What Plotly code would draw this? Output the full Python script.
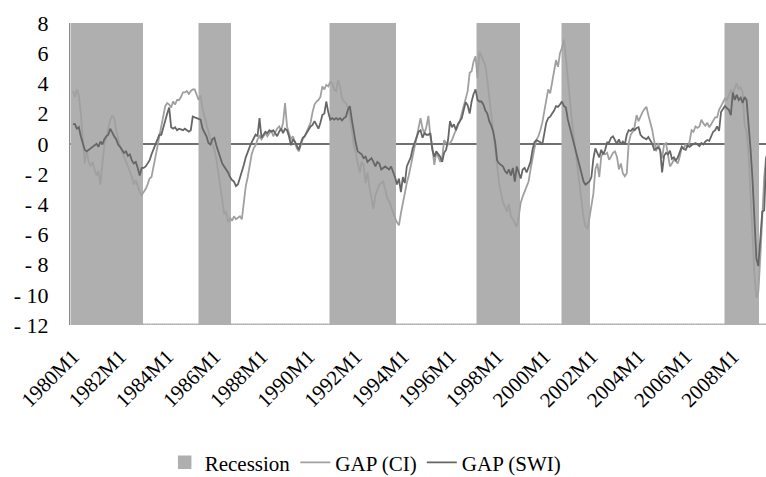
import plotly.graph_objects as go

START_YEAR = 1980
N_MONTHS = 354

# GAP (CI) monthly values, 1980M1 onwards (one row per year)
gap_ci = [
    3.5, 3.1, 3.6, 3.2, 2.0, 0.3, -1.3, -0.4, -1.2, -1.5, -1.2, -1.7,
    -2.1, -1.8, -2.7, -1.3, -0.1, 0.4, 1.0, 1.6, 1.85, 1.7, 0.9, 0.3,
    -0.2, -0.5, -0.9, -1.2, -1.5, -1.8, -2.2, -2.7, -2.4, -2.8, -3.2, -3.4,
    -3.2, -3.0, -2.7, -2.3, -2.2, -1.6, -0.8, -0.2, 0.5, 1.1, 1.9, 2.5,
    2.7, 2.6, 2.4, 2.8, 2.6, 2.9, 2.9, 3.1, 3.4, 3.4, 3.5, 3.3,
    3.5, 3.6, 3.6, 3.2, 2.9, 3.2, 2.3, 1.8, 1.3, 0.7, 0.3, 0.0,
    -0.4, -1.0, -1.9, -2.8, -3.7, -4.6, -4.5, -5.2, -4.9, -5.1, -4.8, -5.0,
    -4.9, -4.8, -5.0, -3.9, -2.8, -2.2, -1.3, -0.7, -0.3, -0.1, 0.3, 0.5,
    0.3, 0.5, 0.7, 0.5, 0.7, 0.9, 0.5, 0.8, 1.0, 1.15, 0.9, 1.4,
    2.7, 1.15, 0.7, 0.3, 0.5, 0.05, -0.3, -0.5, -0.1, 0.3, 0.5, 0.8,
    1.0, 1.4, 2.1, 2.6, 2.8, 2.9, 3.1, 3.8, 3.6, 3.9, 3.8, 4.1,
    4.0, 3.6, 3.5, 4.2, 3.8, 3.0, 2.8, 2.7, 2.4, 1.8, 0.9, -0.1,
    -0.6, -1.2, -1.9, -1.2, -1.4, -2.6, -1.9, -2.9, -3.7, -4.3, -3.4, -3.0,
    -2.7, -2.6, -2.5, -3.0, -3.6, -3.8, -4.2, -4.5, -4.9, -5.2, -5.4, -4.6,
    -3.9, -3.3, -2.6, -2.1, -1.5, -0.8, -0.1, 0.4, 0.9, 1.7, 1.0, 0.7,
    1.15, 1.85, 0.5, -0.2, -1.4, -0.6, -0.85, -1.2, -0.95, 0.25, 0.05, -0.05,
    0.05, 0.25, 0.6, 0.9, 1.15, 1.5, 2.0, 2.6, 3.0, 3.5, 4.7, 4.8,
    5.45, 5.8, 4.35, 6.1, 5.8, 5.45, 5.2, 4.2, 3.1, 1.7, 0.7, -0.3,
    -1.5, -2.6, -3.3, -3.9, -4.15, -4.5, -4.0, -4.8, -5.0, -5.25, -5.5, -4.8,
    -3.9, -3.5, -3.2, -2.8, -2.5, -1.7, -0.85, -0.3, 0.25, 0.5, 0.9, 1.4,
    2.15, 2.8, 3.6, 3.35, 4.0, 4.8, 5.55, 5.1, 6.0, 6.35, 6.9, 5.7,
    4.2, 2.9, 1.6, 0.5, -0.6, -1.7, -2.8, -3.9, -4.9, -5.5, -5.6, -4.9,
    -4.15, -3.3, -1.7, -1.3, -2.2, -0.85, -0.6, -0.7, -0.6, -1.05, -0.85, -0.6,
    -0.5, -0.85, -1.7, -1.3, -1.95, -2.15, -1.95, 0.05, 0.6, 0.8, 1.15, 1.9,
    1.5, 1.85, 2.1, 2.3, 2.45, 1.9, 1.4, 0.9, 0.15, -0.5, 0.05, -0.5,
    -0.95, -0.05, 0.05, -0.75, -1.5, -1.3, -1.05, -1.15, -1.3, -0.85, -0.2, -0.3,
    -0.05, -0.2, 0.15, 0.9, 0.8, 1.15, 1.05, 1.15, 1.6, 1.35, 1.2, 1.4,
    1.1, 1.3, 1.5, 1.75, 1.75, 2.25, 2.5, 2.8, 3.0, 2.9, 3.25, 3.6,
    3.35, 3.7, 4.0, 3.6, 3.75, 3.4, 1.3, 0.8, -0.6, -3.3, -6.0, -8.6,
    -10.2, -9.8, -7.5, -4.8, -2.2, -0.8,
]

# GAP (SWI) monthly values, 1980M1 onwards (one row per year)
gap_swi = [
    1.3, 1.3, 1.0, 1.1, 0.5, 0.05, -0.4, -0.5, -0.4, -0.3, -0.2, -0.1,
    0.0, -0.2, 0.15, -0.05, 0.3, 0.5, 0.6, 1.0, 0.7, 0.5, 0.3, -0.05,
    -0.2, -0.4, -0.6, -0.5, -0.8, -0.7, -1.1, -1.3, -1.2, -1.6, -2.1, -1.6,
    -1.6, -1.5, -1.3, -1.1, -0.7, -0.4, -0.1, 0.3, 0.6, 0.6, 1.1, 1.5,
    2.0, 2.4, 1.1, 1.0, 1.1, 0.9, 1.0, 0.95, 0.9, 1.0, 0.9, 0.8,
    0.9, 1.8, 1.75, 1.7, 1.7, 1.6, 1.0, 0.7, 0.5, 0.05, -0.05, 0.3,
    0.4, -0.1, -0.5, -0.8, -1.3, -1.5, -1.7, -1.9, -2.2, -2.4, -2.5, -2.8,
    -2.7, -2.3, -1.8, -1.4, -0.9, -0.5, -0.2, 0.1, 0.4, 0.6, 0.5, 1.7,
    0.4, 0.6, 0.8, 0.7, 0.9, 0.8, 0.9, 0.7, 0.5, 0.8, 1.0, 0.7,
    1.0, 0.9, 0.5, -0.1, 0.3, 0.15, -0.1, -0.4, 0.05, 0.4, 0.5, 0.7,
    0.9, 1.15, 1.25, 1.5, 1.25, 1.0, 1.4, 1.9, 2.0, 2.8, 2.1, 1.6,
    1.7, 1.6, 1.7, 1.6, 1.7, 1.55, 1.7, 1.8, 2.25, 2.5, 1.6, 0.7,
    0.05, -0.5, -0.6, -0.7, -0.95, -0.85, -1.2, -1.05, -0.95, -1.2, -1.5, -1.2,
    -1.3, -1.7, -1.6, -1.5, -1.6, -1.7, -1.5, -1.8, -2.2, -2.7, -2.3, -3.2,
    -2.2, -2.6, -1.5, -1.2, -0.9, -0.3, 0.1, 0.5, 0.8, 0.9, 0.4, 0.7,
    0.6, 0.6, 0.7, -0.4, -0.85, -0.5, -0.7, -0.85, -1.2, -0.6, -0.4, 0.25,
    1.5, 1.1, 1.3, 0.9, 1.3, 1.5, 1.7, 2.25, 2.75, 2.55, 2.0, 2.8,
    3.3, 3.6, 2.9, 2.8, 2.8, 2.6, 2.2, 2.0, 1.5, 1.2, 0.8, 0.1,
    -1.1, -1.3, -1.4, -1.5, -1.8, -1.95, -1.7, -2.1, -1.6, -2.5, -1.5, -1.9,
    -2.3, -1.7, -1.6, -1.9, -1.5, -1.2, -0.4, 0.1, 0.25, 0.2, 0.1, -0.05,
    0.7, 1.4, 1.7, 1.8, 2.0, 2.2, 2.5, 2.45, 2.6, 2.8, 2.5, 2.4,
    1.6, 1.1, 0.5, 0.0, -0.5, -1.05, -1.5, -1.9, -2.5, -2.7, -2.6, -2.5,
    -2.2, -1.0, -0.3, -0.6, -0.9, -0.4, -0.7, -0.4, 0.1, 0.1, 0.4, 0.5,
    0.25, 0.0, 0.3, -0.05, 0.15, -0.05, 0.6, 0.9, 0.85, 1.0, 0.9, 1.05,
    1.1, 0.6, 0.45, 0.4, 0.3, 0.45, 0.2, 0.0, -0.4, -0.3, -0.25, -0.4,
    -1.9, -0.8, -0.6, -0.7, -0.45, -1.0, -0.9, -1.1, -0.9, -0.55, -0.2, -0.35,
    -0.4, -0.1, -0.2, -0.1, -0.05, 0.05, -0.05, -0.15, 0.05, -0.05, 0.15, 0.25,
    0.2, 0.5, 0.8, 0.9, 1.15, 0.85, 2.1, 2.3, 2.5, 2.35, 2.25, 1.9,
    3.4, 2.9, 3.25, 2.9, 3.05, 2.7, 3.1, 2.9, 1.5, -0.3, -2.3, -4.9,
    -7.6, -8.1, -6.0, -4.5, -4.4, -0.9,
]

# Recession periods (first month, last month)
recessions = [
    ("1980M1", "1982M12"),
    ("1985M6", "1986M9"),
    ("1991M1", "1993M9"),
    ("1997M4", "1998M12"),
    ("2000M11", "2001M12"),
    ("2007M10", "2009M2"),
]

y_tick_vals = [8, 6, 4, 2, 0, -2, -4, -6, -8, -10, -12]
y_tick_text = ["8", "6", "4", "2", "0", "- 2", "- 4", "- 6", "- 8", "- 10", "- 12"]

months = [f"{START_YEAR + i // 12}M{i % 12 + 1}" for i in range(N_MONTHS)]
x_tick_vals = months[::24]

recession_flag = [0] * N_MONTHS
for a, b in recessions:
    ia, ib = months.index(a), months.index(b)
    for i in range(ia, ib + 1):
        recession_flag[i] = 1

FONT = "Liberation Serif, Times New Roman, serif"
REC_COLOR = "#AFAFAF"

fig = go.Figure()
fig.add_trace(go.Bar(
    x=months, y=recession_flag, name="Recession",
    marker=dict(color=REC_COLOR, line=dict(color=REC_COLOR, width=1.5)),
    yaxis="y", hoverinfo="skip",
))
fig.add_trace(go.Scatter(
    x=months, y=gap_ci[:N_MONTHS], name="GAP (CI)", mode="lines",
    line=dict(color="#A0A0A0", width=1.8), yaxis="y2",
))
fig.add_trace(go.Scatter(
    x=months, y=gap_swi[:N_MONTHS], name="GAP (SWI)", mode="lines",
    line=dict(color="#666666", width=1.8), yaxis="y2",
))

fig.update_layout(
    width=766, height=477,
    margin=dict(l=70, r=0, t=23, b=152, autoexpand=False),
    paper_bgcolor="white", plot_bgcolor="white",
    bargap=0,
    font=dict(family=FONT, size=21, color="black"),
    showlegend=True,
    legend=dict(orientation="h", xref="container", x=0.215, xanchor="left",
                yref="container", y=0.03, yanchor="middle",
                font=dict(family=FONT, size=21, color="black"),
                bgcolor="rgba(0,0,0,0)"),
    xaxis=dict(
        type="category", range=[-1.5, 352.9], automargin=False,
        tickmode="array", tickvals=x_tick_vals, ticktext=x_tick_vals,
        tickangle=-45, showline=False, showgrid=False, zeroline=False,
        ticks="outside", ticklen=10, tickcolor="rgba(0,0,0,0)",
        tickfont=dict(family=FONT, size=21, color="black"),
    ),
    yaxis=dict(range=[0, 1], visible=False, fixedrange=True, automargin=False),
    yaxis2=dict(
        overlaying="y", side="left", anchor="x", automargin=False,
        range=[-12, 8], tickmode="array", tickvals=y_tick_vals, ticktext=y_tick_text,
        showline=True, linecolor="#8A8A8A", linewidth=1,
        showgrid=False, zeroline=True, zerolinecolor="#707070", zerolinewidth=2,
        ticks="", ticklabelstandoff=16,
        tickfont=dict(family=FONT, size=22, color="black"),
    ),
)

fig.write_html("out.html", config={"displayModeBar": False},
               post_script="document.body.style.margin='0';")
